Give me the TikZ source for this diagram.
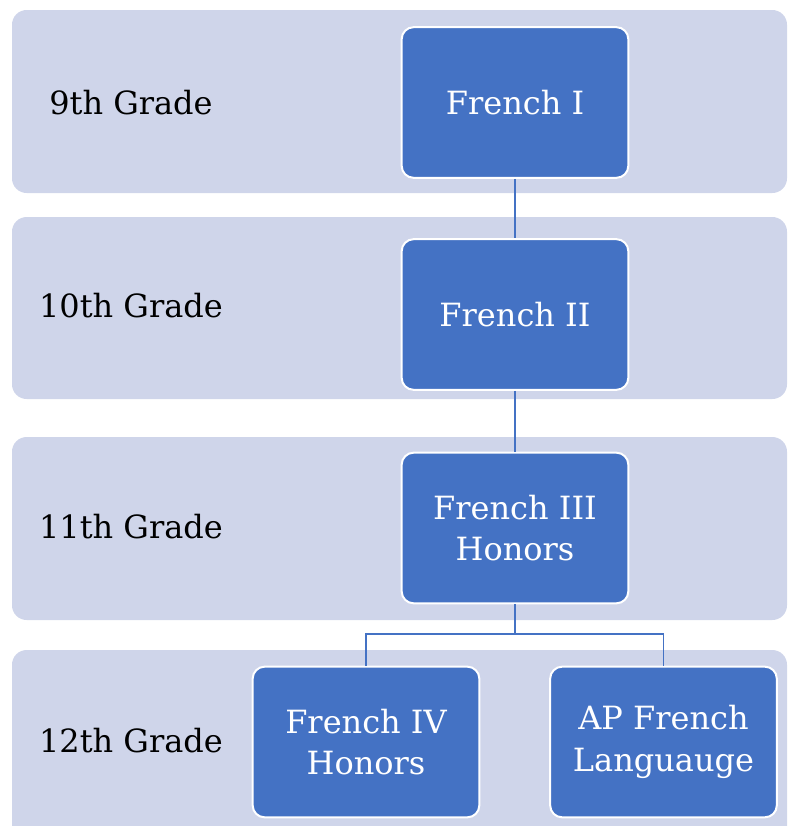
\documentclass[tikz,border=0pt]{standalone}
\usepackage{fontspec}
\setmainfont{DejaVu Serif}
\usetikzlibrary{calc}
\definecolor{bandfill}{HTML}{CFD5EA}
\definecolor{boxfill}{HTML}{4472C4}
\definecolor{linkblue}{HTML}{4472C4}

\begin{document}
\begin{tikzpicture}[x=0.75pt, y=-0.75pt,
    band/.style={fill=bandfill, rounded corners=11pt},
    course/.style={draw=white, line width=1.5pt, fill=boxfill,
      rounded corners=9pt, text=white, align=center,
      minimum width=170pt, minimum height=113pt, inner sep=0pt,
      font=\fontsize{24}{31}\selectfont},
    grade/.style={text=black, font=\fontsize{24}{31}\selectfont},
    link/.style={draw=linkblue, line width=1.4pt}]
    \useasboundingbox (0,0) rectangle (788,826);
    \clip (0,0) rectangle (788,826);

    % 年级背景条
    \fill[band] (12,10) rectangle (787,193);
    \fill[band] (12,217) rectangle (787,399);
    \fill[band] (12,437) rectangle (787,620);
    \fill[band] (12,650) rectangle (787,860);

    % 年级标签
    \node[grade] (g9) at (131,103) {9th Grade};
    \node[grade] (g10) at (131,306) {10th Grade};
    \node[grade] (g11) at (131,527) {11th Grade};
    \node[grade] (g12) at (131,741) {12th Grade};

    % 课程方框
    \node[course] (f1) at (515,102.5) {French I};
    \node[course] (f2) at (515,314.5) {French II};
    \node[course] (f3) at (515,528) {French III\\Honors};
    \node[course] (f4) at (366,742) {French IV\\Honors};
    \node[course] (ap) at (663.5,742) {AP French\\Languauge};

    % 连线
    \draw[link] (f1.south) -- (f2.north);
    \draw[link] (f2.south) -- (f3.north);
    \coordinate (split) at ($(f3.south)+(0,30)$);
    \draw[link] (f3.south) -- (split) -| (f4.north);
    \draw[link] (split) -| (ap.north);
  \end{tikzpicture}
\end{document}
